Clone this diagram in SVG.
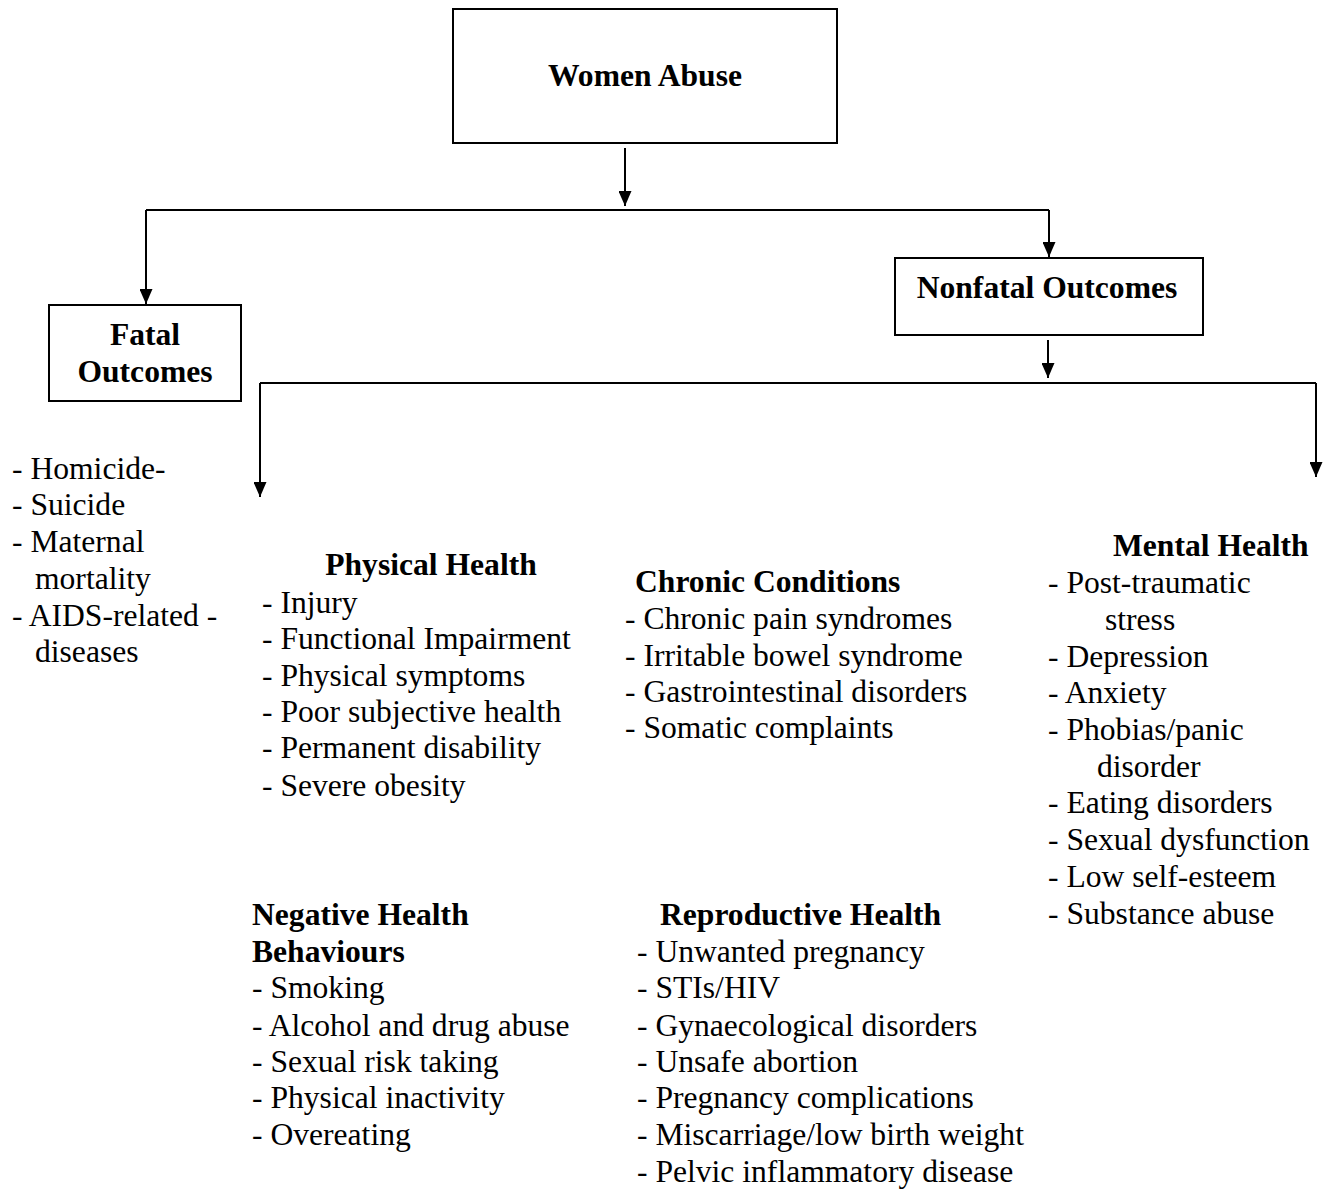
<svg xmlns="http://www.w3.org/2000/svg" width="1327" height="1189" viewBox="0 0 1327 1189">
<style>
.t{font-family:"Liberation Serif","Times New Roman",serif;font-size:31.6px;fill:#000}
.b{font-weight:bold}
.m{text-anchor:middle}
.box{fill:#fff;stroke:#000;stroke-width:2}
.ln{fill:none;stroke:#000;stroke-width:2}
</style>
<defs>
<marker id="ah" viewBox="0 0 15 13" refX="15" refY="6.5" markerWidth="15" markerHeight="13" markerUnits="userSpaceOnUse" orient="auto">
<path d="M0,0 L15,6.5 L0,13 z" fill="#000"/>
</marker>
</defs>
<rect width="1327" height="1189" fill="#fff"/>
<g id="connectors">
<path class="ln" d="M625,148 V206" marker-end="url(#ah)"/>
<path class="ln" d="M146,210 H1049"/>
<path class="ln" d="M146,210 V304" marker-end="url(#ah)"/>
<path class="ln" d="M1049,210 V257" marker-end="url(#ah)"/>
<path class="ln" d="M1048,340 V378" marker-end="url(#ah)"/>
<path class="ln" d="M260,383 H1316"/>
<path class="ln" d="M260,383 V497" marker-end="url(#ah)"/>
<path class="ln" d="M1316,383 V477" marker-end="url(#ah)"/>
</g>
<g id="women-abuse">
<rect class="box" x="453" y="9" width="384" height="134"/>
<text class="t b m" x="645" y="86">Women Abuse</text>
</g>
<g id="fatal-outcomes">
<rect class="box" x="49" y="305" width="192" height="96"/>
<text class="t b m" x="145" y="345">Fatal</text>
<text class="t b m" x="145" y="382">Outcomes</text>
</g>
<g id="nonfatal-outcomes">
<rect class="box" x="895" y="258" width="308" height="77"/>
<text class="t b m" x="1047" y="298">Nonfatal Outcomes</text>
</g>
<g id="fatal-list">
<text class="t" x="12" y="479">- Homicide-</text>
<text class="t" x="12" y="515">- Suicide</text>
<text class="t" x="12" y="552">- Maternal</text>
<text class="t" x="35" y="589">mortality</text>
<text class="t" x="12" y="626">- AIDS-related -</text>
<text class="t" x="35" y="662">diseases</text>
</g>
<g id="physical-health">
<text class="t b m" x="431" y="575">Physical Health</text>
<text class="t" x="262" y="613">- Injury</text>
<text class="t" x="262" y="649">- Functional Impairment</text>
<text class="t" x="262" y="686">- Physical symptoms</text>
<text class="t" x="262" y="722">- Poor subjective health</text>
<text class="t" x="262" y="758">- Permanent disability</text>
<text class="t" x="262" y="796">- Severe obesity</text>
</g>
<g id="chronic-conditions">
<text class="t b" x="635" y="592">Chronic Conditions</text>
<text class="t" x="625" y="629">- Chronic pain syndromes</text>
<text class="t" x="625" y="666">- Irritable bowel syndrome</text>
<text class="t" x="625" y="702">- Gastrointestinal disorders</text>
<text class="t" x="625" y="738">- Somatic complaints</text>
</g>
<g id="mental-health">
<text class="t b" x="1113" y="556">Mental Health</text>
<text class="t" x="1048" y="593">- Post-traumatic</text>
<text class="t" x="1105" y="630">stress</text>
<text class="t" x="1048" y="667">- Depression</text>
<text class="t" x="1048" y="703">- Anxiety</text>
<text class="t" x="1048" y="740">- Phobias/panic</text>
<text class="t" x="1097" y="777">disorder</text>
<text class="t" x="1048" y="813">- Eating disorders</text>
<text class="t" x="1048" y="850">- Sexual dysfunction</text>
<text class="t" x="1048" y="887">- Low self-esteem</text>
<text class="t" x="1048" y="924">- Substance abuse</text>
</g>
<g id="negative-health-behaviours">
<text class="t b" x="252" y="925">Negative Health</text>
<text class="t b" x="252" y="962">Behaviours</text>
<text class="t" x="252" y="998">- Smoking</text>
<text class="t" x="252" y="1036">- Alcohol and drug abuse</text>
<text class="t" x="252" y="1072">- Sexual risk taking</text>
<text class="t" x="252" y="1108">- Physical inactivity</text>
<text class="t" x="252" y="1145">- Overeating</text>
</g>
<g id="reproductive-health">
<text class="t b" x="660" y="925">Reproductive Health</text>
<text class="t" x="637" y="962">- Unwanted pregnancy</text>
<text class="t" x="637" y="998">- STIs/HIV</text>
<text class="t" x="637" y="1036">- Gynaecological disorders</text>
<text class="t" x="637" y="1072">- Unsafe abortion</text>
<text class="t" x="637" y="1108">- Pregnancy complications</text>
<text class="t" x="637" y="1145">- Miscarriage/low birth weight</text>
<text class="t" x="637" y="1182">- Pelvic inflammatory disease</text>
</g>
</svg>
